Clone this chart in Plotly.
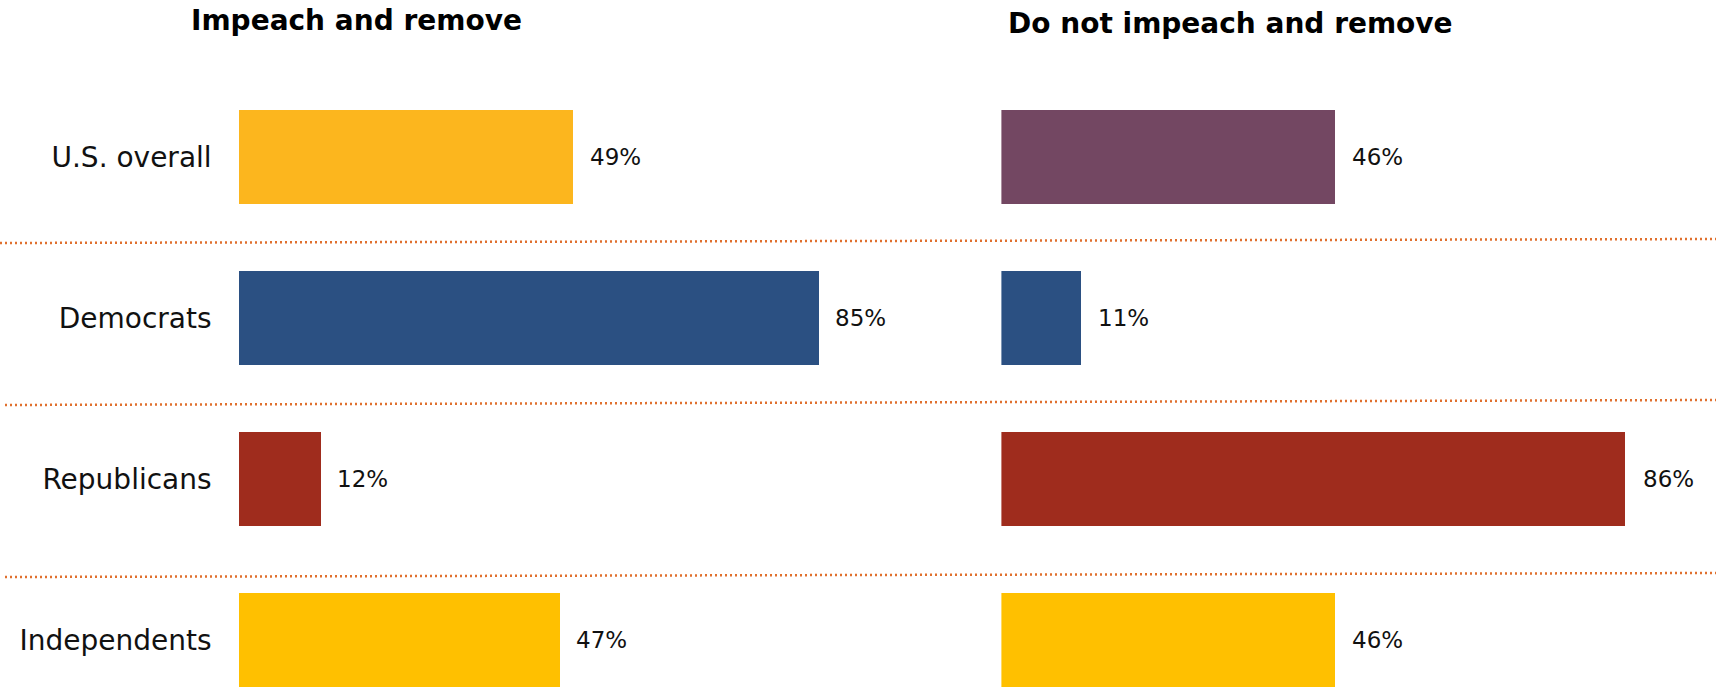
import plotly.graph_objects as go

# ---- data ----
categories = ["U.S. overall", "Democrats", "Republicans", "Independents"]
impeach = [49, 85, 12, 47]
not_impeach = [46, 11, 86, 46]
impeach_colors = ["#FCB61E", "#2B5082", "#9F2C1D", "#FFC000"]
not_impeach_colors = ["#734762", "#2B5082", "#9F2C1D", "#FFC000"]
panel_titles = ["Impeach and remove", "Do not impeach and remove"]

W, H = 1716, 687
FONT = "DejaVu Sans"

fig = go.Figure()
fig.add_trace(go.Bar(
    y=categories, x=impeach, orientation="h", marker=dict(color=impeach_colors, line=dict(width=0)),
    width=0.578, xaxis="x", yaxis="y", showlegend=False, hoverinfo="skip",
))
fig.add_trace(go.Bar(
    y=categories, x=not_impeach, orientation="h", marker=dict(color=not_impeach_colors, line=dict(width=0)),
    width=0.578, xaxis="x2", yaxis="y2", showlegend=False, hoverinfo="skip",
))

annotations = []
for c, v in zip(categories, impeach):
    annotations.append(dict(x=v, y=c, xref="x", yref="y", text=f"{v}%", showarrow=False,
                            xanchor="left", yanchor="middle", xshift=15,
                            font=dict(family=FONT, size=23, color="#111111")))
for c, v in zip(categories, not_impeach):
    annotations.append(dict(x=v, y=c, xref="x2", yref="y2", text=f"{v}%", showarrow=False,
                            xanchor="left", yanchor="middle", xshift=15,
                            font=dict(family=FONT, size=23, color="#111111")))

title_pos = [(356, 20), (1230, 23)]
for t, (px, py) in zip(panel_titles, title_pos):
    annotations.append(dict(x=px / W, y=1 - py / H, xref="paper", yref="paper",
                            text=f"<b>{t}</b>", showarrow=False, xanchor="center", yanchor="middle",
                            font=dict(family=FONT, size=28, color="#000000")))

# dotted separators (pixel positions -> paper)
sep = [(0, 243, 239), (5, 405, 400), (5, 577, 573)]
shapes = []
for x0, y0, y1 in sep:
    shapes.append(dict(type="line", xref="paper", yref="paper", x0=x0 / W, x1=1,
                       y0=1 - y0 / H, y1=1 - y1 / H,
                       line=dict(color="#E0702E", width=2.5, dash="2px,3px")))

c0 = 157
yrange = [(H - c0) / 161, -c0 / 161]
xl0 = 238.6
xr0 = 1001.4

fig.update_layout(
    width=W, height=H,
    margin=dict(l=0, r=0, t=0, b=0),
    paper_bgcolor="white", plot_bgcolor="white",
    font=dict(family=FONT, color="#111111"),
    xaxis=dict(domain=[xl0 / W, (xl0 + 682) / W], range=[0, 100], visible=False),
    xaxis2=dict(domain=[xr0 / W, (xr0 + 7.26 * 98) / W], range=[0, 98], visible=False),
    yaxis=dict(type="category", categoryorder="array", categoryarray=categories,
               range=yrange, showgrid=False, zeroline=False, showline=False, ticks="",
               tickfont=dict(family=FONT, size=28, color="#111111"), ticklabelstandoff=26),
    yaxis2=dict(type="category", categoryorder="array", categoryarray=categories, anchor="x2",
                range=yrange, showgrid=False, zeroline=False, showline=False, showticklabels=False, ticks=""),
    annotations=annotations,
    shapes=shapes,
    bargap=0,
)

fig.write_html("out.html", config={"displayModeBar": False},
               post_script="document.body.style.margin='0';")
